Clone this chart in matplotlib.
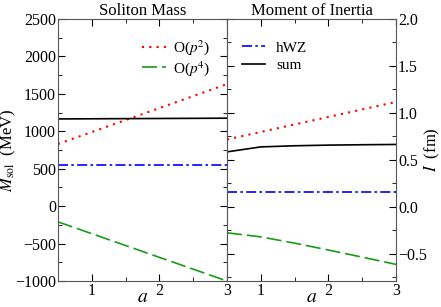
import numpy as np
import matplotlib
matplotlib.use('Agg')
import matplotlib.pyplot as plt
from matplotlib.ticker import MultipleLocator

plt.rcParams['font.family'] = ['Liberation Serif', 'DejaVu Serif']
plt.rcParams['mathtext.fontset'] = 'stix'
plt.rcParams['xtick.direction'] = 'in'
plt.rcParams['ytick.direction'] = 'in'

###############################################################################
a_vals = [0.5, 1.0, 1.5, 2.0, 2.5, 3.0]

# soliton mass (MeV)
mass_p2 = [830, 990, 1150, 1310, 1470, 1630]
mass_p4 = [-210, -368, -526, -684, -842, -1000]
mass_hwz = [545, 545, 545, 545, 545, 545]
mass_sum = [1165, 1167, 1169, 1171, 1173, 1175]

# moment of inertia (fm)
inert_p2 = [0.717, 0.797, 0.877, 0.957, 1.037, 1.117]
inert_p4 = [-0.277, -0.320, -0.387, -0.460, -0.536, -0.613]
inert_hwz = [0.16, 0.16, 0.16, 0.16, 0.16, 0.16]
inert_sum = [0.585, 0.638, 0.650, 0.657, 0.661, 0.664]
###############################################################################

fig = plt.figure(figsize=(4.41, 3.07), dpi=100)
ax1 = fig.add_axes([58 / 441, 26 / 307, 169 / 441, 262 / 307])
ax2 = fig.add_axes([227 / 441, 26 / 307, 169 / 441, 262 / 307])

RED_LS = (0, (1, 2.5))
GREEN_LS = (0, (9, 3))
BLUE_LS = (0, (6, 2, 1.5, 2))

ax1.plot(a_vals, mass_p2, color='red', linestyle=RED_LS, linewidth=1.5, label=r'O($p^2$)')
ax1.plot(a_vals, mass_p4, color='#1a9a1a', linestyle=GREEN_LS, linewidth=1.2, label=r'O($p^4$)')
ax1.plot(a_vals, mass_hwz, color='blue', linestyle=BLUE_LS, linewidth=1.2, label='hWZ')
ax1.plot(a_vals, mass_sum, color='black', linewidth=1.2, label='sum')

ax2.plot(a_vals, inert_p2, color='red', linestyle=RED_LS, linewidth=1.5)
ax2.plot(a_vals, inert_p4, color='#1a9a1a', linestyle=GREEN_LS, linewidth=1.2)
ax2.plot(a_vals, inert_hwz, color='blue', linestyle=BLUE_LS, linewidth=1.2)
ax2.plot(a_vals, inert_sum, color='black', linewidth=1.2)

ax1.set_xlim(0.5, 3)
ax1.set_ylim(-1000, 2500)
ax2.set_xlim(0.5, 3)
ax2.set_ylim(-0.79, 2)

for ax in (ax1, ax2):
    ax.xaxis.set_major_locator(MultipleLocator(1))
    ax.xaxis.set_minor_locator(MultipleLocator(0.5))
    ax.tick_params(which='both', top=True, right=True, left=True, labelsize=11.5, pad=1.5)
    ax.tick_params(which='major', length=5)
    ax.tick_params(which='minor', length=3)
    ax.set_xlabel(r'$a$', fontsize=14, labelpad=-7)
    for sp in ax.spines.values():
        sp.set_color('#555555')

ax1.yaxis.set_major_locator(MultipleLocator(500))
ax1.yaxis.set_minor_locator(MultipleLocator(250))
ax2.yaxis.set_major_locator(MultipleLocator(0.5))
ax2.yaxis.set_minor_locator(MultipleLocator(0.25))
ax2.yaxis.tick_right()
ax2.tick_params(which='both', left=True, labelleft=False, labelright=True)
ax2.yaxis.set_label_position('right')

ax1.set_ylabel(r'$M_{\rm sol}$  (MeV)', fontsize=12, labelpad=-2)
ax2.set_ylabel(r'$I$  (fm)', fontsize=12, rotation=90, labelpad=-3)

ax1.set_title('Soliton Mass', fontsize=12, pad=3)
ax2.set_title('Moment of Inertia', fontsize=12, pad=3)

h, l = ax1.get_legend_handles_labels()
ax1.legend(h[:2], l[:2], loc='upper right', bbox_to_anchor=(1.0, 0.99), frameon=False, fontsize=11,
           handlelength=1.6, handletextpad=0.45, borderaxespad=0.7, labelspacing=0.1)
ax2.legend(h[2:], l[2:], loc='upper left', bbox_to_anchor=(0.0, 0.975), frameon=False, fontsize=11,
           handlelength=1.5, handletextpad=0.7, borderaxespad=0.6, labelspacing=0.25)

plt.savefig('out.png', dpi=100)
